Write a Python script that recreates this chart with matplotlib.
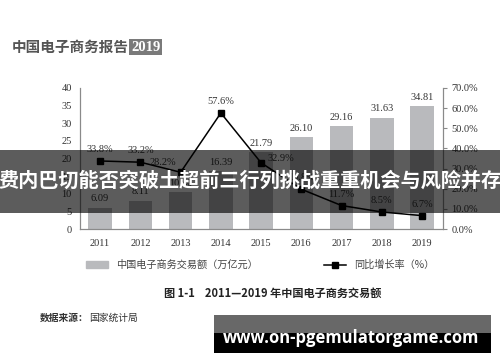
import matplotlib.pyplot as plt
from matplotlib.patches import Rectangle
from matplotlib.lines import Line2D

plt.rcParams['font.family'] = ['Liberation Serif', 'Noto Sans CJK SC']

# 数据
years = ['2011', '2012', '2013', '2014', '2015', '2016', '2017', '2018', '2019']
volume = [6.09, 8.11, 10.40, 16.39, 21.79, 26.10, 29.16, 31.63, 34.81]   # 万亿元
growth = [33.8, 33.2, 28.2, 57.6, 32.9, 19.8, 11.7, 8.5, 6.7]            # %
left_ticks = [0, 5, 10, 15, 20, 25, 30, 35, 40]
right_ticks = [0, 10, 20, 30, 40, 50, 60, 70]

cjk = ['Noto Sans CJK SC', 'DejaVu Sans']
bar_color = '#b9babd'
spine_color = '#8a8a8a'

fig = plt.figure(figsize=(5, 3.62), dpi=100)
ax = fig.add_axes([0.16, 0.367, 0.726, 0.39])
ax2 = ax.twinx()

x = range(len(years))
bars = ax.bar(x, volume, width=0.58, color=bar_color, zorder=1)
for xi, v in zip(x, volume):
    ax.annotate(f'{v:.2f}', (xi, v), textcoords='offset points', xytext=(0, 3),
                ha='center', va='bottom', fontsize=7.5, color='#333333')

ax2.plot(x, growth, color='black', lw=1.1, marker='s', markersize=4.5, zorder=3)
# 标签偏移（部分点为避开折线而左右错开）
offsets = {2: (-13, 4), 4: (14, 0)}
for xi, g in zip(x, growth):
    dx, dy = offsets.get(xi, (0, 5))
    ax2.annotate(f'{g:.1f}%', (xi, g), textcoords='offset points', xytext=(dx, dy),
                 ha='center', va='bottom', fontsize=7.5, color='#333333')

ax.set_xlim(-0.5, 8.52)
ax.set_ylim(0, 40)
ax.set_yticks(left_ticks)
ax.set_xticks(list(x))
ax.set_xticklabels(years)
ax2.set_ylim(0, 70)
ax2.set_yticks(right_ticks)
ax2.set_yticklabels([f'{t:.1f}%' for t in right_ticks])

for a in (ax, ax2):
    a.spines['top'].set_visible(False)
    for s in ('left', 'right', 'bottom'):
        a.spines[s].set_color(spine_color)
        a.spines[s].set_linewidth(0.8)
    a.tick_params(labelsize=7.5, colors='#333333', length=0, pad=6)
ax2.tick_params(axis='y', length=3, color=spine_color, pad=3)
ax.tick_params(axis='x', pad=7)

# 图例
handles = [Rectangle((0, 0), 1, 1, color=bar_color),
           Line2D([0], [0], color='black', lw=1.1, marker='s', markersize=4)]
labels = ['中国电子商务交易额（万亿元）', '同比增长率（%）']
fig.legend(handles, labels, ncol=2, loc='center', bbox_to_anchor=(0.52, 0.268),
           frameon=False, columnspacing=6.5, handlelength=2.2,
           prop={'family': cjk, 'size': 7.3}, labelcolor='#444444')

# 页眉
fig.text(0.024, 0.870, '中国电子商务报告', family=cjk, fontsize=10.5, fontweight='bold',
         color='#555555', va='center')
fig.text(0.262, 0.870, '2019', fontsize=10.5, fontweight='bold', color='white', va='center',
         bbox=dict(boxstyle='square,pad=0.12', fc='#7a7a7a', ec='none'))

# 图题与来源
fig.text(0.545, 0.19, '图 1-1    2011—2019 年中国电子商务交易额', family=cjk,
         fontsize=8, fontweight='bold', ha='center', va='center', color='#222222')
fig.text(0.08, 0.122, '数据来源：', family=cjk, fontsize=7, fontweight='bold',
         va='center', color='#333333')
fig.text(0.178, 0.122, '国家统计局', family=cjk, fontsize=7, va='center', color='#333333')

# 覆盖横幅
fig.patches.append(Rectangle((0, 0.4116), 1, 0.174, transform=fig.transFigure,
                             fc='black', alpha=0.64, ec='none', zorder=10))
fig.text(0.5, 0.503, '费内巴切能否突破土超前三行列挑战重重机会与风险并存', family=cjk,
         fontsize=14.5, fontweight='bold', color='white', ha='center', va='center', zorder=11)

fig.patches.append(Rectangle((0.428, 0.0801), 0.554, 0.0497, transform=fig.transFigure,
                             fc='#686868', ec='none', zorder=10))
fig.patches.append(Rectangle((0.428, 0.0249), 0.554, 0.0552, transform=fig.transFigure,
                             fc='black', ec='none', zorder=10))
fig.text(0.703, 0.066, 'www.on-pgemulatorgame.com', family=['Open Sans', 'DejaVu Sans'],
         fontsize=12, fontweight='bold', color='white', ha='center', va='center', zorder=11)

fig.savefig('out.png', dpi=100)
